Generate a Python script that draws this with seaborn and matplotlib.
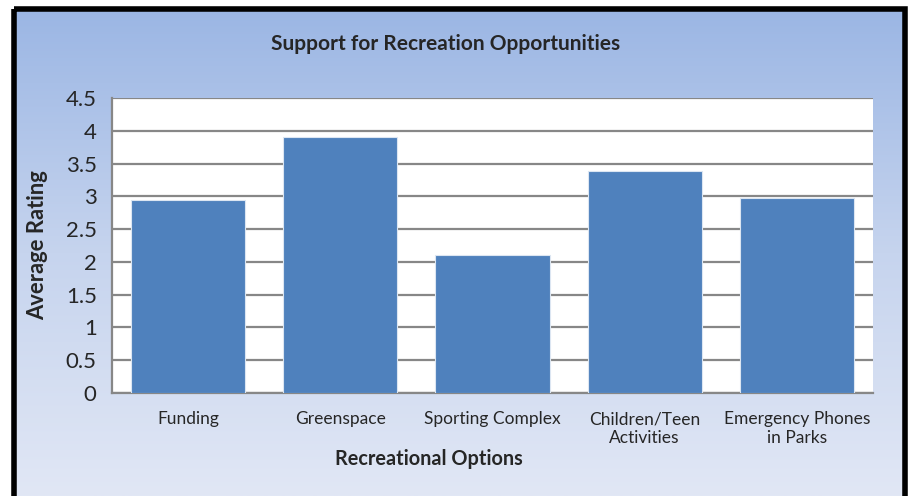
import numpy as np
import pandas as pd
import matplotlib
matplotlib.use("Agg")
import matplotlib.pyplot as plt
from matplotlib.colors import LinearSegmentedColormap
from matplotlib.patches import Rectangle
import seaborn as sns

categories = ["Funding", "Greenspace", "Sporting Complex",
              "Children/Teen\nActivities", "Emergency Phones\nin Parks"]
ratings = [2.95, 3.90, 2.10, 3.38, 2.98]
yticks = [0, 0.5, 1, 1.5, 2, 2.5, 3, 3.5, 4, 4.5]
ytick_labels = ["0", "0.5", "1", "1.5", "2", "2.5", "3", "3.5", "4", "4.5"]

sns.set_theme(style="white")
plt.rcParams["font.family"] = ["Lato", "DejaVu Sans"]

W, H = 911, 496
fig = plt.figure(figsize=(W / 100, H / 100), dpi=100)
fig.patch.set_facecolor("white")

# gradient backdrop inside the frame
bg = fig.add_axes([14 / W, 0, (905 - 14) / W, (H - 9) / H], zorder=0)
grad = np.linspace(0, 1, 256).reshape(-1, 1)
cmap = LinearSegmentedColormap.from_list("bg", ["#9BB6E4", "#C6D4EE", "#E1E7F5"])
bg.imshow(grad, aspect="auto", cmap=cmap, extent=[0, 1, 0, 1], origin="upper")
bg.set_axis_off()

# black frame
frame_ax = fig.add_axes([0, 0, 1, 1], zorder=1)
frame_ax.set_xlim(0, W)
frame_ax.set_ylim(H, 0)
frame_ax.set_axis_off()
frame_ax.patch.set_alpha(0)
frame_ax.add_patch(Rectangle((14, 9), 891, 520, fill=False, lw=4, ec="black"))

ax = fig.add_axes([112 / W, (H - 393) / H, (873 - 112) / W, (393 - 98) / H], zorder=2)
ax.set_facecolor("white")

df = pd.DataFrame({"option": categories, "rating": ratings})
sns.barplot(data=df, x="option", y="rating", color="#4F81BD", saturation=1,
            width=0.75, edgecolor="#DCE6F2", linewidth=0.8, ax=ax, zorder=3)

ax.set_ylim(0, 4.5)
ax.set_xlim(-0.5, len(categories) - 0.5)
ax.set_yticks(yticks)
ax.set_yticklabels(ytick_labels, fontsize=16)
ax.yaxis.grid(True, color="#878787", lw=1.6)
ax.set_axisbelow(True)

ax.set_xticks(range(len(categories)))
ax.set_xticklabels(categories, fontsize=12.5, linespacing=1.25)
ax.set_xticks(np.arange(-0.5, len(categories)), minor=True)
ax.tick_params(axis="x", which="major", length=0, pad=13)
ax.tick_params(axis="x", which="minor", length=5, width=1.5, color="#878787", direction="out")
ax.tick_params(axis="y", length=8, width=1.5, color="#878787", direction="out", pad=3)

for side in ["top", "right"]:
    ax.spines[side].set_visible(False)
for side in ["left", "bottom"]:
    ax.spines[side].set_color("#878787")
    ax.spines[side].set_linewidth(1.6)

ax.set_ylabel("Average Rating", fontsize=15.8, fontweight="bold")
ax.set_xlabel("Recreational Options", fontsize=14.3, fontweight="bold")
ax.yaxis.set_label_coords((38 - 112) / (873 - 112), 0.5)
ax.xaxis.set_label_coords((429 - 112) / (873 - 112), -(459 - 393) / (393 - 98))
ax.xaxis.label.set_va("center")
ax.yaxis.label.set_va("center")

fig.text(446 / W, 1 - 44 / H, "Support for Recreation Opportunities",
         ha="center", va="center", fontsize=15, fontweight="bold", zorder=3)

fig.savefig("out.png", dpi=100)
